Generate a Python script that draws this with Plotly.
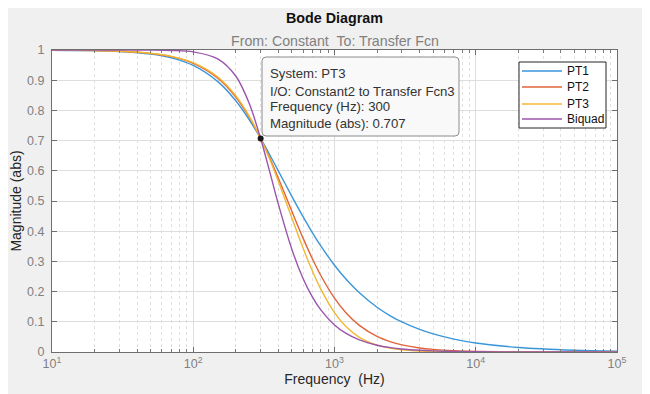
import plotly.graph_objects as go

freq_hz = [10, 20, 30, 50, 70, 100, 150, 200, 250, 300, 350, 400, 500, 600, 700, 800,
           1000, 1200, 1500, 2000, 2500, 3000, 4000, 5000, 7000, 10000, 20000, 50000, 100000]

pt1 = [0.9994, 0.9978, 0.9950, 0.9864, 0.9738, 0.9487, 0.8944, 0.8321, 0.7682, 0.7071,
       0.6508, 0.6000, 0.5145, 0.4472, 0.3939, 0.3511, 0.2873, 0.2425, 0.1961, 0.1483,
       0.1191, 0.0995, 0.0748, 0.0599, 0.0428, 0.0300, 0.0150, 0.0060, 0.0030]

pt2 = [0.9995, 0.9982, 0.9959, 0.9886, 0.9780, 0.9560, 0.9061, 0.8445, 0.7766, 0.7071,
       0.6394, 0.5759, 0.4650, 0.3763, 0.3072, 0.2534, 0.1785, 0.1311, 0.0881, 0.0515,
       0.0336, 0.0236, 0.0134, 0.0086, 0.0044, 0.0022, 0.0005, 0.0001, 0.0000]

pt3 = [0.9996, 0.9983, 0.9961, 0.9893, 0.9791, 0.9582, 0.9099, 0.8488, 0.7797, 0.7071,
       0.6349, 0.5657, 0.4426, 0.3434, 0.2665, 0.2081, 0.1305, 0.0854, 0.0487, 0.0225,
       0.0120, 0.0071, 0.0031, 0.0016, 0.0006, 0.0002, 0.0000, 0.0000, 0.0000]

biquad = [1.0000, 1.0000, 0.9999, 0.9996, 0.9985, 0.9939, 0.9701, 0.9138, 0.8214, 0.7071,
          0.5921, 0.4903, 0.3387, 0.2425, 0.1807, 0.1393, 0.0896, 0.0624, 0.0400, 0.0225,
          0.0144, 0.0100, 0.0056, 0.0036, 0.0018, 0.0009, 0.0002, 0.0000, 0.0000]

series_names = ["PT1", "PT2", "PT3", "Biquad"]
series_colors = ["#3a96d8", "#e0643a", "#f0b833", "#9a55ad"]

x_tick_vals = [10, 100, 1000, 10000, 100000]
x_tick_text = ["10<sup>1</sup>", "10<sup>2</sup>", "10<sup>3</sup>", "10<sup>4</sup>", "10<sup>5</sup>"]
x_minor_vals = [m * d for d in [10, 100, 1000, 10000] for m in range(2, 10)]
y_tick_vals = [0, 0.1, 0.2, 0.3, 0.4, 0.5, 0.6, 0.7, 0.8, 0.9, 1]
y_tick_text = ["0", "0.1", "0.2", "0.3", "0.4", "0.5", "0.6", "0.7", "0.8", "0.9", "1"]

tip_freq = [300]
tip_mag = [0.707]
tip_lines = ["System: PT3", "I/O: Constant2 to Transfer Fcn3",
             "Frequency (Hz): 300", "Magnitude (abs): 0.707"]

FONT = "Liberation Sans, Arial"

# page geometry (the page body adds an 8px offset)
OFF = 8
W, H = 650 - OFF, 394 - OFF
ML, MR, MT, MB = 52 - OFF, 33, 50 - OFF, 42
PW, PH = W - ML - MR, H - MT - MB


def px(xa):
    return (xa - OFF - ML) / PW


def py(ya):
    return 1 - (ya - OFF - MT) / PH


fig = go.Figure()
for name, vals, col in zip(series_names, [pt1, pt2, pt3, biquad], series_colors):
    fig.add_trace(go.Scatter(x=freq_hz, y=vals, mode="lines", name=name, showlegend=False,
                             line=dict(color=col, width=1.4, shape="spline", smoothing=0.8)))

fig.add_trace(go.Scatter(x=tip_freq, y=tip_mag, mode="markers", showlegend=False,
                         marker=dict(color="#1a1a1a", size=6)))

# data tip box (rounded)
x0, x1, y0, y1, r = 262, 459, 57, 136, 4
rx, ry = r / PW, r / PH
X0, X1, Y0, Y1 = px(x0), px(x1), py(y0), py(y1)
path = (f"M {X0+rx},{Y0} L {X1-rx},{Y0} Q {X1},{Y0} {X1},{Y0-ry} "
        f"L {X1},{Y1+ry} Q {X1},{Y1} {X1-rx},{Y1} L {X0+rx},{Y1} "
        f"Q {X0},{Y1} {X0},{Y1+ry} L {X0},{Y0-ry} Q {X0},{Y0} {X0+rx},{Y0} Z")
fig.add_shape(type="path", path=path, xref="paper", yref="paper",
              fillcolor="#f9f9f9", line=dict(color="#8c8c8c", width=1))
for ln, ya in zip(tip_lines, [74, 91, 107, 123]):
    fig.add_annotation(x=px(268), y=py(ya), xref="paper", yref="paper", xanchor="left",
                       yanchor="middle", text=ln, showarrow=False,
                       font=dict(family=FONT, size=13.2, color="#333333"))

# legend box drawn by hand
fig.add_shape(type="rect", xref="paper", yref="paper", x0=px(519), x1=px(606), y0=py(62), y1=py(128),
              fillcolor="#ffffff", line=dict(color="#262626", width=1))
for name, col, ya in zip(series_names, series_colors, [71, 87, 104, 119]):
    fig.add_shape(type="line", xref="paper", yref="paper", x0=px(522), x1=px(562), y0=py(ya), y1=py(ya),
                  line=dict(color=col, width=1.4))
    fig.add_annotation(x=px(565), y=py(ya), xref="paper", yref="paper", xanchor="left",
                       yanchor="middle", text=name, showarrow=False,
                       font=dict(family=FONT, size=12, color="#111111"))

fig.add_annotation(x=0.5, y=py(18), xref="paper", yref="paper", yanchor="middle", text="<b>Bode Diagram</b>",
                   showarrow=False, font=dict(family=FONT, size=14.3, color="#111111"))
fig.add_annotation(x=0.5, y=py(41), xref="paper", yref="paper", yanchor="middle",
                   text="From: Constant  To: Transfer Fcn",
                   showarrow=False, font=dict(family=FONT, size=14.2, color="#808080"))

fig.update_layout(
    width=W, height=H,
    paper_bgcolor="#f0f0f0", plot_bgcolor="#ffffff",
    margin=dict(l=ML, r=MR, t=MT, b=MB),
    font=dict(family=FONT, size=12.5, color="#808080"),
    showlegend=False,
)

fig.update_xaxes(
    type="log", range=[1, 5], tickvals=x_tick_vals, ticktext=x_tick_text,
    showgrid=True, gridcolor="#dedede", gridwidth=1,
    ticks="inside", ticklen=5, tickcolor="#6e6e6e",
    showline=True, linecolor="#6e6e6e", linewidth=1, mirror="allticks",
    minor=dict(tickvals=x_minor_vals, showgrid=True, gridcolor="#e0e0e0", griddash="dot",
               ticks="inside", ticklen=3, tickcolor="#7a7a7a"),
    title=dict(text="Frequency  (Hz)", font=dict(size=14, color="#262626"), standoff=3),
    zeroline=False, tickfont=dict(color="#808080", size=12.5), automargin=False,
)
fig.update_yaxes(
    range=[0, 1], tickvals=y_tick_vals, ticktext=y_tick_text,
    showgrid=True, gridcolor="#dedede", gridwidth=1,
    ticks="inside", ticklen=5, tickcolor="#6e6e6e",
    showline=True, linecolor="#6e6e6e", linewidth=1, mirror="allticks",
    title=dict(text="Magnitude (abs)", font=dict(size=14, color="#262626"), standoff=4),
    zeroline=False, tickfont=dict(color="#808080", size=12.5), automargin=False,
    ticklabelstandoff=4,
)

fig.write_html("out.html")
